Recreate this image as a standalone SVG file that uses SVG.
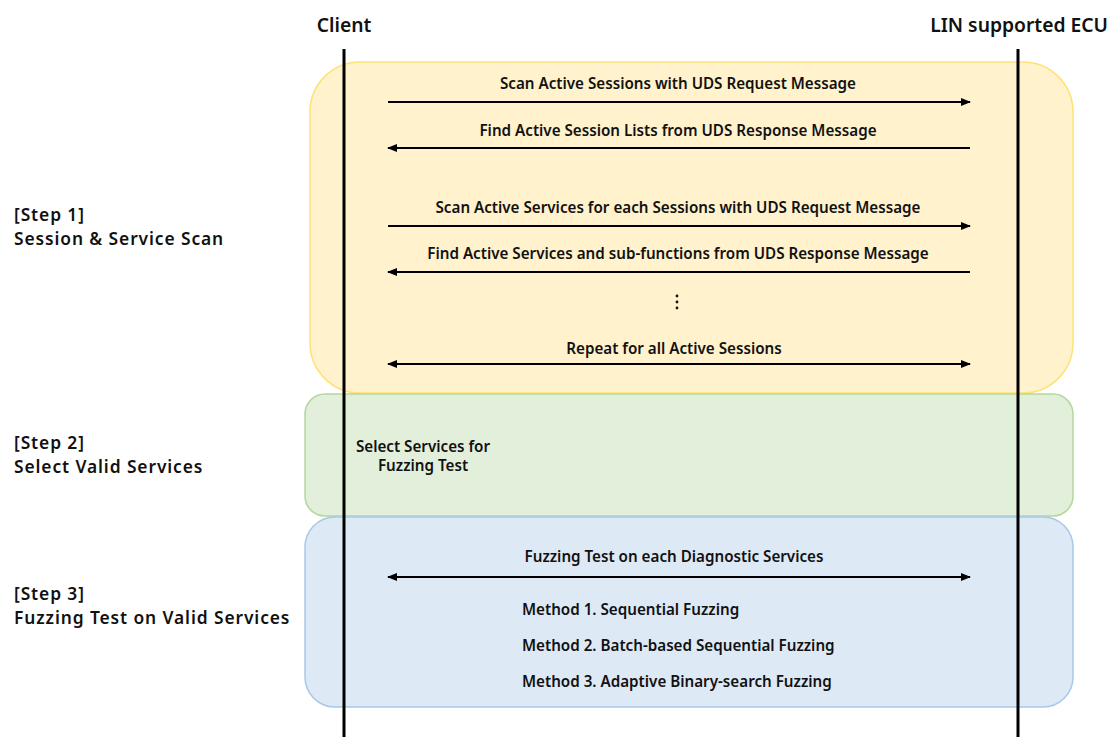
<svg xmlns="http://www.w3.org/2000/svg" width="1110" height="737" viewBox="0 0 1110 737">
<style>
.t{font-family:"Noto Sans","Liberation Sans",sans-serif;font-weight:600;font-size:15.2px;fill:#111}
.h{font-family:"Noto Sans","Liberation Sans",sans-serif;font-weight:600;font-size:19.3px;fill:#111}
.s{font-family:"Noto Sans","Liberation Sans",sans-serif;font-weight:600;font-size:17.4px;letter-spacing:0.9px;fill:#111}
.m{stroke:#000;stroke-width:2;fill:none}
.life{stroke:#000;stroke-width:3}
</style>
<defs>
<marker id="ah" viewBox="0 0 10 10" refX="9" refY="5" markerWidth="5" markerHeight="5" orient="auto-start-reverse" markerUnits="strokeWidth">
<path d="M0,1 L10,5 L0,9 Z" fill="#000"/>
</marker>
</defs>
<rect width="1110" height="737" fill="#fff"/>
<g id="step1">
<rect x="310" y="62" width="763" height="331" rx="50" fill="#fff2cc" stroke="#ffe175" stroke-width="1.5"/>
<text class="s" x="14" y="221">[Step 1]</text>
<text class="s" x="14" y="245">Session &amp; Service Scan</text>
</g>
<g id="step2">
<rect x="305" y="394" width="768" height="122" rx="20" fill="#e2efda" stroke="#b5d69c" stroke-width="1.5"/>
<text class="s" x="14" y="449">[Step 2]</text>
<text class="s" x="14" y="473">Select Valid Services</text>
<text class="t" x="423" y="452" text-anchor="middle">Select Services for<tspan x="423" dy="19">Fuzzing Test</tspan></text>
</g>
<g id="step3">
<rect x="305" y="517" width="768" height="190" rx="30" fill="#dee9f6" stroke="#a8c7e8" stroke-width="1.5"/>
<text class="s" x="14" y="600">[Step 3]</text>
<text class="s" x="14" y="624">Fuzzing Test on Valid Services</text>
</g>
<g id="client">
<text class="h" x="344" y="32" text-anchor="middle">Client</text>
<line class="life" x1="344" y1="49" x2="344" y2="737"/>
</g>
<g id="ecu">
<text class="h" x="1108" y="32" text-anchor="end">LIN supported ECU</text>
<line class="life" x1="1018" y1="49" x2="1018" y2="737"/>
</g>
<g id="connectors">
<line class="m" x1="388" y1="102" x2="970" y2="102" marker-end="url(#ah)"/>
<line class="m" x1="970" y1="148" x2="388" y2="148" marker-end="url(#ah)"/>
<line class="m" x1="388" y1="226" x2="970" y2="226" marker-end="url(#ah)"/>
<line class="m" x1="970" y1="272" x2="388" y2="272" marker-end="url(#ah)"/>
<line class="m" x1="388" y1="364" x2="970" y2="364" marker-start="url(#ah)" marker-end="url(#ah)"/>
<line class="m" x1="388" y1="577" x2="970" y2="577" marker-start="url(#ah)" marker-end="url(#ah)"/>
</g>
<g id="labels">
<text class="t" x="678" y="89" text-anchor="middle">Scan Active Sessions with UDS Request Message</text>
<text class="t" x="678" y="136" text-anchor="middle">Find Active Session Lists from UDS Response Message</text>
<text class="t" x="678" y="213" text-anchor="middle">Scan Active Services for each Sessions with UDS Request Message</text>
<text class="t" x="678" y="259" text-anchor="middle">Find Active Services and sub-functions from UDS Response Message</text>
<circle cx="677" cy="296" r="1.4" fill="#111"/>
<circle cx="677" cy="302" r="1.4" fill="#111"/>
<circle cx="677" cy="308" r="1.4" fill="#111"/>
<text class="t" x="674" y="354" text-anchor="middle">Repeat for all Active Sessions</text>
<text class="t" x="674" y="562" text-anchor="middle">Fuzzing Test on each Diagnostic Services</text>
<text class="t" x="522" y="615">Method 1. Sequential Fuzzing</text>
<text class="t" x="522" y="651">Method 2. Batch-based Sequential Fuzzing</text>
<text class="t" x="522" y="687">Method 3. Adaptive Binary-search Fuzzing</text>
</g>
</svg>
